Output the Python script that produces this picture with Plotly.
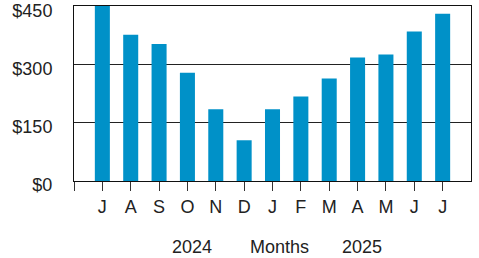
import plotly.graph_objects as go

months = ["J", "A", "S", "O", "N", "D", "J", "F", "M", "A", "M", "J", "J"]
values = [460, 377, 353, 279, 185, 105, 185, 218, 264, 318, 326, 385, 431]
y_ticks = [0, 150, 300, 450]
y_labels = ["$0", "$150", "$300", "$450"]

pos = list(range(len(months)))

fig = go.Figure(go.Bar(x=pos, y=values, marker_color="#0091c8", width=0.53,
                       marker_line_width=0))

font = dict(family="Liberation Sans, Arial, sans-serif", size=18, color="#222")
fig.update_layout(
    width=479, height=258,
    margin=dict(l=74, r=8, t=6, b=77, autoexpand=False),
    plot_bgcolor="white", paper_bgcolor="white",
    showlegend=False, font=font,
    xaxis=dict(range=[-1, 13], tickvals=[-1] + pos, ticktext=[""] + months,
               ticks="outside", ticklen=9, tickcolor="#333", tickwidth=1,
               showgrid=False, showline=True, linecolor="#111", linewidth=1,
               mirror=True, zeroline=False, fixedrange=True, automargin=False),
    yaxis=dict(range=[0, 451], tickvals=y_ticks, ticktext=y_labels,
               showgrid=True, gridcolor="#222", gridwidth=1,
               showline=True, linecolor="#111", linewidth=1, mirror=True,
               zeroline=False, ticks="", ticklabelstandoff=17, ticklabelshift=4,
               ticklabeloverflow="allow", automargin=False, fixedrange=True),
)
# annotations positioned via paper coordinates computed from pixel targets
pw, ph = 479 - 74 - 8, 258 - 6 - 77
for txt, px in [("2024", 192), ("Months", 279), ("2025", 362)]:
    fig.add_annotation(text=txt, x=(px - 74) / pw, y=(258 - 77 - 247) / ph,
                       xref="paper", yref="paper", showarrow=False,
                       xanchor="center", yanchor="middle")

fig.write_html("out.html", config={"displayModeBar": False},
               post_script="document.body.style.margin='0';")
